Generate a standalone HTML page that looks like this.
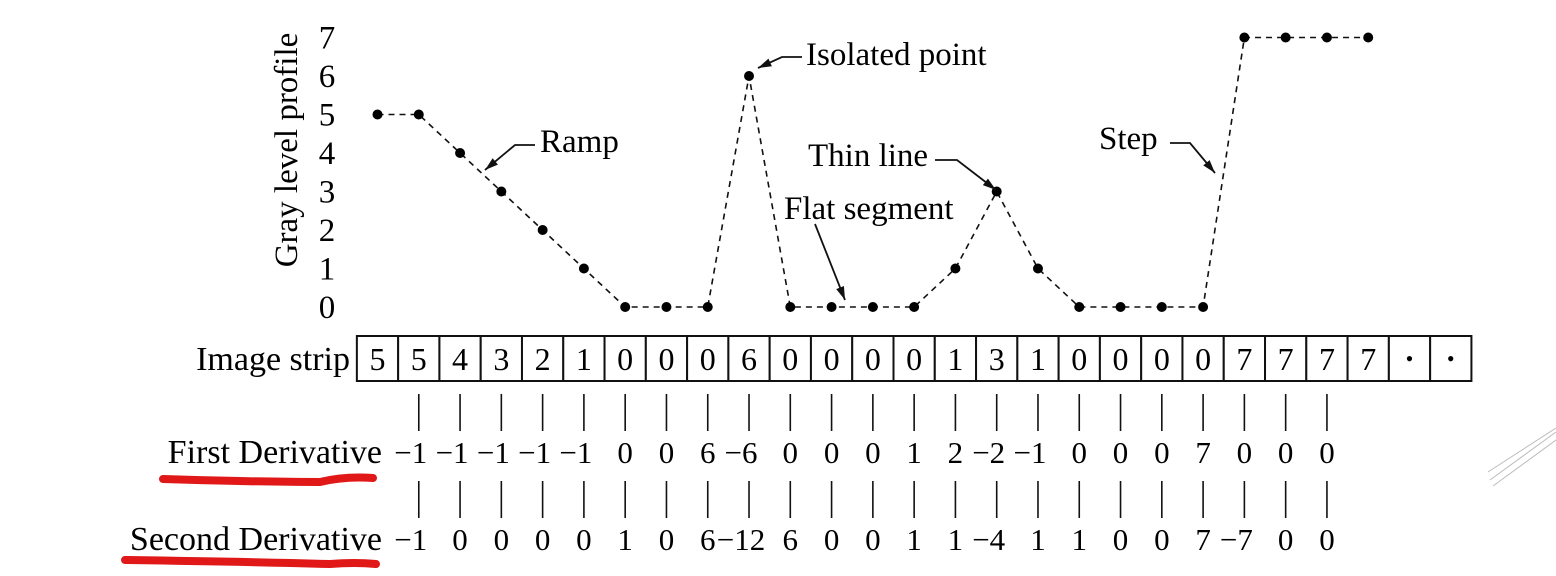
<!DOCTYPE html>
<html><head><meta charset="utf-8"><style>
body{margin:0;background:#fff;}
svg{display:block;font-family:"Liberation Serif",serif;}
</style></head><body>
<svg id="c" width="1556" height="576" viewBox="0 0 1556 576">
<g id="g"></g>
</svg>
<script>
const profile=[5,5,4,3,2,1,0,0,0,6,0,0,0,0,1,3,1,0,0,0,0,7,7,7,7];
const strip=["5","5","4","3","2","1","0","0","0","6","0","0","0","0","1","3","1","0","0","0","0","7","7","7","7","•","•"];
const firstDeriv=["−1","−1","−1","−1","−1","0","0","6","−6","0","0","0","1","2","−2","−1","0","0","0","7","0","0","0"];
const secondDeriv=["−1","0","0","0","0","1","0","6","−12","6","0","0","1","1","−4","1","1","0","0","7","−7","0","0"];
const yTicks=[0,1,2,3,4,5,6,7];
</script>
<script>
const NS="http://www.w3.org/2000/svg",G=document.getElementById('g');
function el(t,a,p){const e=document.createElementNS(NS,t);for(const k in a)e.setAttribute(k,a[k]);(p||G).appendChild(e);return e;}
const x=i=>377.5+i*41.28, y=v=>307-v*38.5;
yTicks.forEach(v=>{const t=el('text',{x:327,y:y(v)+11,'font-size':33,'text-anchor':'middle'});t.textContent=v;

});
const yl=el('text',{x:0,y:0,'font-size':33,'text-anchor':'middle',transform:'translate(297,150) rotate(-90)'});yl.textContent='Gray level profile';


const pl=el('polyline',{points:profile.map((v,i)=>x(i)+','+y(v)).join(' '),fill:'none',stroke:'#111','stroke-width':1.6,'stroke-dasharray':'6 5'});


profile.forEach((v,i)=>{const c=el('circle',{cx:x(i),cy:y(v),r:5,fill:'#000'});

});
const sl=el('text',{x:350,y:370,'font-size':34,'text-anchor':'end'});sl.textContent='Image strip';


strip.forEach((s,i)=>{const r=el('rect',{x:x(i)-20.64,y:336,width:41.28,height:45,fill:'#fff',stroke:'#111','stroke-width':2});


const t=el('text',{x:x(i),y:s==='•'?366:370,'font-size':s==='•'?22:32,'text-anchor':'middle'});t.textContent=s;

});
function row(vals,ty,ly,name){vals.forEach((s,k)=>{const i=k+1;
const l=el('line',{x1:x(i),x2:x(i),y1:ty,y2:ty+37,stroke:'#111','stroke-width':1.6});


const t=el('text',{x:x(i)-(s[0]==='−'?8:0),y:ly,'font-size':31,'text-anchor':'middle'});t.textContent=s;

});}
row(firstDeriv,394,463,'first-derivative');
row(secondDeriv,481,550,'second-derivative');
const f1=el('text',{x:382,y:463,'font-size':34,'text-anchor':'end'});f1.textContent='First Derivative';


const f2=el('text',{x:382,y:550,'font-size':34,'text-anchor':'end'});f2.textContent='Second Derivative';


const u1=el('path',{d:'M163 479 Q260 482 320 482 Q345 476 373 478',stroke:'#e01818','stroke-width':8,fill:'none','stroke-linecap':'round'});


const u2=el('path',{d:'M125 560 Q260 562 330 564 Q355 562 376 564',stroke:'#e01818','stroke-width':8,fill:'none','stroke-linecap':'round'});


function ann(txt,tx,ty,pts,name){const t=el('text',{x:tx,y:ty,'font-size':33});t.textContent=txt;


const p=el('polyline',{points:pts.map(q=>q.join(',')).join(' '),fill:'none',stroke:'#111','stroke-width':1.8});


const a=pts[pts.length-1],b=pts[pts.length-2],ang=Math.atan2(a[1]-b[1],a[0]-b[0]);
const h=el('polygon',{points:[a,[a[0]-14*Math.cos(ang-0.3),a[1]-14*Math.sin(ang-0.3)],[a[0]-14*Math.cos(ang+0.3),a[1]-14*Math.sin(ang+0.3)]].map(q=>q.join(',')).join(' '),fill:'#111'});

}
ann('Isolated point',806,65,[[802,57],[782,57],[758,68]],'isolated-point');
ann('Ramp',540,152,[[535,145],[515,145],[485,170]],'ramp');
ann('Thin line',808,166,[[935,160],[957,160],[996,190]],'thin-line');
ann('Flat segment',784,219,[[815,224],[845,300]],'flat-segment');
ann('Step',1099,149,[[1170,143],[1190,143],[1215,173]],'step');
[[1490,480,1556,432],[1493,486,1556,440],[1488,472,1556,428]].forEach(s=>{const l=el('line',{x1:s[0],y1:s[1],x2:s[2],y2:s[3],stroke:'#bbb','stroke-width':1});

});
</script>
</body></html>
